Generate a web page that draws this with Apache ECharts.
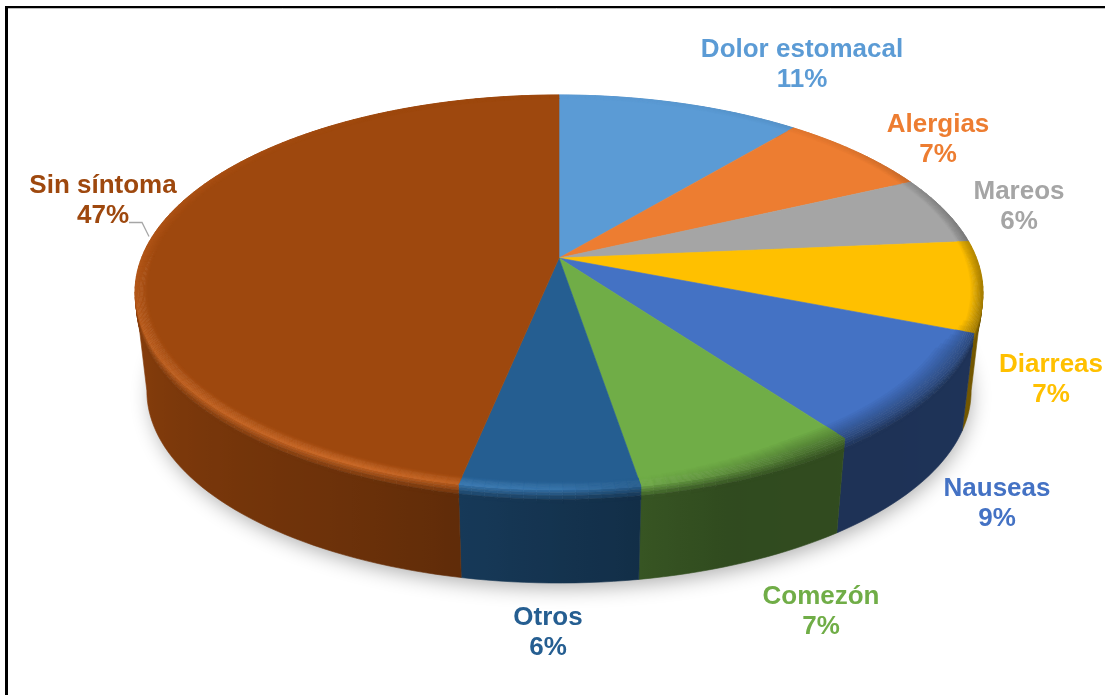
<!DOCTYPE html>
<html><head><meta charset="utf-8">
<style>html,body{margin:0;padding:0;background:#fff}#c{width:1105px;height:695px}</style>
<script src="https://cdn.jsdelivr.net/npm/echarts@6/dist/echarts.min.js"></script>
</head><body><div id="c"></div>
<script>
var categories = ['Dolor estomacal','Alergias','Mareos','Diarreas','Nauseas','Comezón','Otros','Sin síntoma'];
var values = [11, 7, 5.6, 7.4, 9, 7.4, 5.8, 46.8];
var colors = ['#5b9bd5','#ed7d31','#a5a5a5','#ffc000','#4472c4','#70ad47','#255e91','#9e480e'];
var labelCentreX = [802, 938, 1019, 1051, 997, 821, 548, 103];
var labelCentreY = [65, 140, 207, 380, 504, 612, 633, 201];

var CX = 559, CY = 258, A = 417.5, B = 191.5, K = 0.1747;
var BOT_SCALE = 0.972, BOT_DY = 99.5;
var WALL_FROM = 100, WALL_TO = 260;
var total = values.reduce(function (a, b) { return a + b; }, 0);
var starts = []; (function () { var s = 0; values.forEach(function (v) { starts.push(s); s += v; }); })();

function pt(deg, r, z) {
  var t = deg * Math.PI / 180, u = r * Math.sin(t), v = -r * Math.cos(t), w = 1 - K * v;
  var s = 1 + (BOT_SCALE - 1) * z;
  return [CX + s * A * u / w, CY + BOT_DY * z + s * B * v / w];
}
function rgb(h) { return [parseInt(h.substr(1,2),16), parseInt(h.substr(3,2),16), parseInt(h.substr(5,2),16)]; }
function css(c) { return 'rgb(' + c.map(Math.round).join(',') + ')'; }
function mix(a, b, t) { return [a[0]+(b[0]-a[0])*t, a[1]+(b[1]-a[1])*t, a[2]+(b[2]-a[2])*t]; }
function lerpTable(tab, x) {
  if (x <= tab[0][0]) return tab[0][1];
  for (var i = 1; i < tab.length; i++) if (x <= tab[i][0]) {
    return tab[i-1][1] + (tab[i][1]-tab[i-1][1]) * (x-tab[i-1][0])/(tab[i][0]-tab[i-1][0]);
  }
  return tab[tab.length-1][1];
}
var sideTable = [[0,.5],[90,.46],[160,.43],[190,.6],[205,.68],[270,.9],[360,.9]];
var lightTable = [[0,0],[60,0],[150,0],[168,.03],[180,.14],[205,.24],[240,.16],[275,.09],[310,.03],[330,0],[360,0]];
var darkTable = [[0,0],[50,.12],[100,.62],[150,.62],[170,.15],[180,0],[360,0]];
var bevelTable = [[0,.028],[108,.028],[118,.06],[150,.06],[172,.03],[360,.028]];
function peakColor(base, deg) {
  var l = lerpTable(lightTable, deg), d = lerpTable(darkTable, deg);
  var c = base.map(function (x) { return Math.min(255, x * (1 + l)); });
  c = mix(c, [255,255,255], l * .3);
  return mix(c, [0,0,0], d * .55);
}
function sideColor(base, deg) { return mix(base, [0,0,0], 1 - lerpTable(sideTable, deg)); }
function poly(points, fill) {
  return { type:'polygon', shape:{points:points}, silent:true,
    style:{fill:fill, stroke:fill, lineWidth:.6, lineJoin:'round'} };
}
function segs(i) {
  var a0 = starts[i]/total*360, a1 = (starts[i]+values[i])/total*360;
  var n = Math.max(2, Math.ceil((a1-a0)/1.5)), out = [];
  for (var k = 0; k <= n; k++) out.push(a0 + (a1-a0)*k/n);
  return out;
}

function renderSide(params) {
  var i = params.dataIndex, base = rgb(colors[i]), d = segs(i), ch = [];
  var ZB = .14;
  // lower wall: only the arc between the two silhouette tangents
  var first = d[0], last = d[d.length-1], wallArc = [];
  if (last > WALL_FROM && first < WALL_TO) {
    wallArc = d.filter(function (a) { return a >= WALL_FROM && a <= WALL_TO; });
    if (first < WALL_FROM) wallArc.unshift(WALL_FROM);
    if (last > WALL_TO) wallArc.push(WALL_TO);
  }
  if (wallArc.length > 1) {
    var up = [], low = [];
    wallArc.forEach(function (a) { up.push(pt(a,1,ZB-.02)); low.unshift(pt(a,1,1)); });
    var xs = up.map(function (p) { return p[0]; });
    var xa = Math.min.apply(null, xs), xb = Math.max.apply(null, xs);
    var span = Math.max(1, xb - xa), stops = [];
    wallArc.forEach(function (a, k) {
      stops.push({ offset: Math.max(0, Math.min(1, (xs[k]-xa)/span)), color: css(sideColor(base, a)) });
    });
    stops.sort(function (p, q) { return p.offset - q.offset; });
    var grad = new echarts.graphic.LinearGradient(xa, 0, xb, 0, stops, true);
    ch.push({ type:'polygon', silent:true, shape:{points:up.concat(low)},
      style:{ fill:grad, stroke:grad, lineWidth:.6, lineJoin:'round' } });
  }
  // rounded shoulder under the rim
  var Z = [0, .03, .06, .1, ZB];
  for (var k = 0; k < d.length-1; k++) {
    var m = (d[k]+d[k+1])/2, pk = peakColor(base, m), sd = sideColor(base, m);
    for (var j = 0; j < Z.length-1; j++) {
      ch.push(poly([pt(d[k],1,Z[j]),pt(d[k+1],1,Z[j]),pt(d[k+1],1,Z[j+1]),pt(d[k],1,Z[j+1])],
        css(mix(pk, sd, Z[j+1]/ZB))));
    }
  }
  return { type:'group', children:ch };
}
function renderTop(params) {
  var i = params.dataIndex, base = rgb(colors[i]), d = segs(i), ch = [];
  var pts = [pt(0,0,0)];
  d.forEach(function (a) { pts.push(pt(a,.976,0)); });
  ch.push(poly(pts, colors[i]));
  var N = 10;
  for (var k = 0; k < d.length-1; k++) {
    var m = (d[k]+d[k+1])/2, pk = peakColor(base, m);
    var width = lerpTable(bevelTable, m);
    for (var j = 0; j < N; j++) {
      var r0 = 1 - width*(1 - j/N), r1 = 1 - width*(1 - (j+1)/N);
      ch.push(poly([pt(d[k],r0,0),pt(d[k+1],r0,0),pt(d[k+1],r1,0),pt(d[k],r1,0)],
        css(mix(base, pk, (j+1)/N))));
    }
  }
  return { type:'group', children:ch };
}
function renderLabel(params, api) {
  var i = params.dataIndex;
  var ch = [{ type:'text', silent:true, x:labelCentreX[i], y:labelCentreY[i], style:{
    text: categories[i] + '\n' + Math.round(api.value(1)) + '%',
    fill: colors[i], align:'center', verticalAlign:'middle', lineHeight:30,
    font:'bold 26px "Liberation Sans", Arial, sans-serif' } }];
  if (i === categories.length-1) {
    ch.push({ type:'polyline', silent:true, shape:{points:[[129,222.5],[142,222.5],[149,236.5]]},
      style:{stroke:'#a6a6a6', lineWidth:1.3, fill:null} });
  }
  return { type:'group', children:ch };
}
function renderShadow() {
  var pts = [];
  for (var a = 0; a < 360; a += 2) pts.push(pt(a,.995,1));
  return { type:'polygon', silent:true, shape:{points:pts},
    style:{fill:'#d8d8d8', shadowBlur:20, shadowColor:'rgba(0,0,0,0.32)', shadowOffsetY:6, shadowOffsetX:2} };
}
var rows = categories.map(function (c, i) { return [c, values[i]]; });
var chart = echarts.init(document.getElementById('c'), null, {renderer:'canvas'});
var common = { type:'custom', coordinateSystem:'none', animation:false, silent:true };
chart.setOption({
  backgroundColor:'#fff', animation:false, tooltip:{show:false},
  graphic:[
    {type:'line', shape:{x1:6.5,y1:7,x2:6.5,y2:695}, style:{stroke:'#000',lineWidth:3}},
    {type:'line', shape:{x1:5,y1:7,x2:1105,y2:7}, style:{stroke:'#000',lineWidth:2}},
    {type:'line', shape:{x1:8,y1:8.5,x2:1105,y2:8.5}, style:{stroke:'#bdbdbd',lineWidth:1}}
  ],
  series:[
    Object.assign({}, common, {name:'sombra', data:[['s',1]], renderItem:renderShadow, z:1}),
    Object.assign({}, common, {name:'lados', data:rows, renderItem:renderSide, z:2}),
    Object.assign({}, common, {name:'sup', data:rows, renderItem:renderTop, z:3}),
    Object.assign({}, common, {name:'etiquetas', data:rows, renderItem:renderLabel, z:4})
  ]
});
</script></body></html>
